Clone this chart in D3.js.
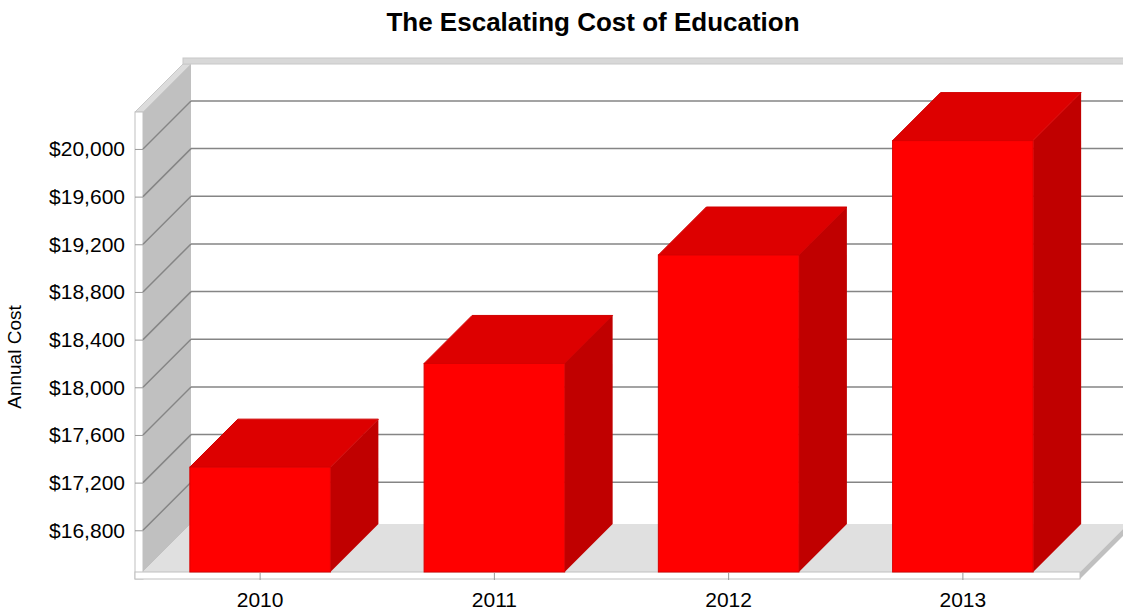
<!DOCTYPE html>
<html>
<head>
<meta charset="utf-8">
<script src="https://cdn.jsdelivr.net/npm/d3@7"></script>
<style>
  body { margin: 0; background: #fff; }
  text { font-family: "Liberation Sans", Arial, sans-serif; }
</style>
</head>
<body>
<div id="chart"></div>
<script>
const years = ["2010", "2011", "2012", "2013"];
const costs = [17330, 18200, 19110, 20070];
const yTicks = [16800, 17200, 17600, 18000, 18400, 18800, 19200, 19600, 20000];

const W = 1123, H = 610;
const DEPTH = 48;   // 3d offset, back plane is up-right
const WALL = 8;     // slab thickness
const left = 143, right = 1080, floorY = 572, topY = 112;

const svg = d3.select("#chart").append("svg")
    .attr("width", W)
    .attr("height", H);

const x = d3.scaleBand().domain(years).range([left, right]).paddingInner(0.4).paddingOuter(0.2);
const y = d3.scaleLinear().domain([16450, 20310]).range([floorY, topY]);

const line = d3.line();

// left wall slab
svg.append("path")
    .attr("d", line([[left, topY], [left + DEPTH, topY - DEPTH], [left + DEPTH, floorY - DEPTH], [left, floorY]]) + "Z")
    .attr("fill", "#c0c0c0");
svg.append("path")
    .attr("d", line([[left - WALL, topY], [left, topY], [left + DEPTH, topY - DEPTH], [left + DEPTH - WALL, topY - DEPTH]]) + "Z")
    .attr("fill", "#dcdcdc").attr("stroke", "#c8c8c8");
svg.append("rect")
    .attr("x", left - WALL).attr("y", topY)
    .attr("width", WALL).attr("height", floorY + 7 - topY)
    .attr("fill", "#fff").attr("stroke", "#c0c0c0");

// back wall top edge
svg.append("rect")
    .attr("x", left + DEPTH - WALL).attr("y", topY - DEPTH - 6)
    .attr("width", W - left).attr("height", 6)
    .attr("fill", "#d8d8d8").attr("stroke", "#c8c8c8");

// floor slab
svg.append("path")
    .attr("d", line([[left, floorY], [right, floorY], [right + DEPTH, floorY - DEPTH], [left + DEPTH, floorY - DEPTH]]) + "Z")
    .attr("fill", "#e0e0e0");
svg.append("path")
    .attr("d", line([[right, floorY], [right + DEPTH, floorY - DEPTH], [right + DEPTH, floorY - DEPTH + 7], [right, floorY + 7]]) + "Z")
    .attr("fill", "#c0c0c0");
svg.append("rect")
    .attr("x", left - WALL).attr("y", floorY)
    .attr("width", right - left + WALL).attr("height", 7)
    .attr("fill", "#fff").attr("stroke", "#c0c0c0");

// gridlines: on back wall and across the left wall
const grid = svg.append("g").attr("stroke", "#858585").attr("stroke-width", 1.5);
grid.selectAll(".back").data(yTicks).enter().append("line")
    .attr("x1", left + DEPTH).attr("x2", W + 10)
    .attr("y1", d => y(d) - DEPTH).attr("y2", d => y(d) - DEPTH);
grid.selectAll(".side").data(yTicks).enter().append("line")
    .attr("x1", left).attr("x2", left + DEPTH)
    .attr("y1", d => y(d)).attr("y2", d => y(d) - DEPTH);

// y axis
const yAxis = svg.append("g")
    .attr("transform", "translate(" + left + ",0)")
    .call(d3.axisLeft(y).tickValues(yTicks).tickSize(WALL).tickPadding(10)
        .tickFormat(d => "$" + d3.format(",")(d)));
yAxis.select(".domain").remove();
yAxis.selectAll("line").attr("stroke", "#999");
yAxis.selectAll("text").attr("font-size", 21).attr("fill", "#000")
    .style("font-family", "Liberation Sans, Arial, sans-serif");

// x axis
const xAxis = svg.append("g")
    .attr("transform", "translate(0," + (floorY + 1) + ")")
    .call(d3.axisBottom(x).tickSize(7).tickPadding(12));
xAxis.select(".domain").remove();
xAxis.selectAll("line").attr("stroke", "#999");
xAxis.selectAll("text").attr("font-size", 21).attr("fill", "#000")
    .style("font-family", "Liberation Sans, Arial, sans-serif");

// bars
const data = years.map((yr, i) => ({ year: yr, cost: costs[i] }));
const bars = svg.selectAll(".bar").data(data).enter().append("g").attr("class", "bar");
bars.append("path")
    .attr("d", d => {
        const x0 = x(d.year), x1 = x0 + x.bandwidth(), yt = y(d.cost);
        return line([[x1, yt], [x1 + DEPTH, yt - DEPTH], [x1 + DEPTH, floorY - DEPTH], [x1, floorY]]) + "Z";
    })
    .attr("fill", "#c00000");
bars.append("path")
    .attr("d", d => {
        const x0 = x(d.year), x1 = x0 + x.bandwidth(), yt = y(d.cost);
        return line([[x0, yt], [x1, yt], [x1 + DEPTH, yt - DEPTH], [x0 + DEPTH, yt - DEPTH]]) + "Z";
    })
    .attr("fill", "#dd0000").attr("stroke", "#d00000");
bars.append("rect")
    .attr("x", d => x(d.year))
    .attr("y", d => y(d.cost))
    .attr("width", x.bandwidth())
    .attr("height", d => floorY - y(d.cost))
    .attr("fill", "#ff0000").attr("stroke", "#d80000");

// title and y label
svg.append("text")
    .attr("x", 593).attr("y", 31)
    .attr("text-anchor", "middle")
    .attr("font-size", 26).attr("font-weight", "bold")
    .text("The Escalating Cost of Education");

svg.append("text")
    .attr("transform", "translate(21,357) rotate(-90)")
    .attr("text-anchor", "middle")
    .attr("font-size", 19)
    .text("Annual Cost");
</script>
</body>
</html>
